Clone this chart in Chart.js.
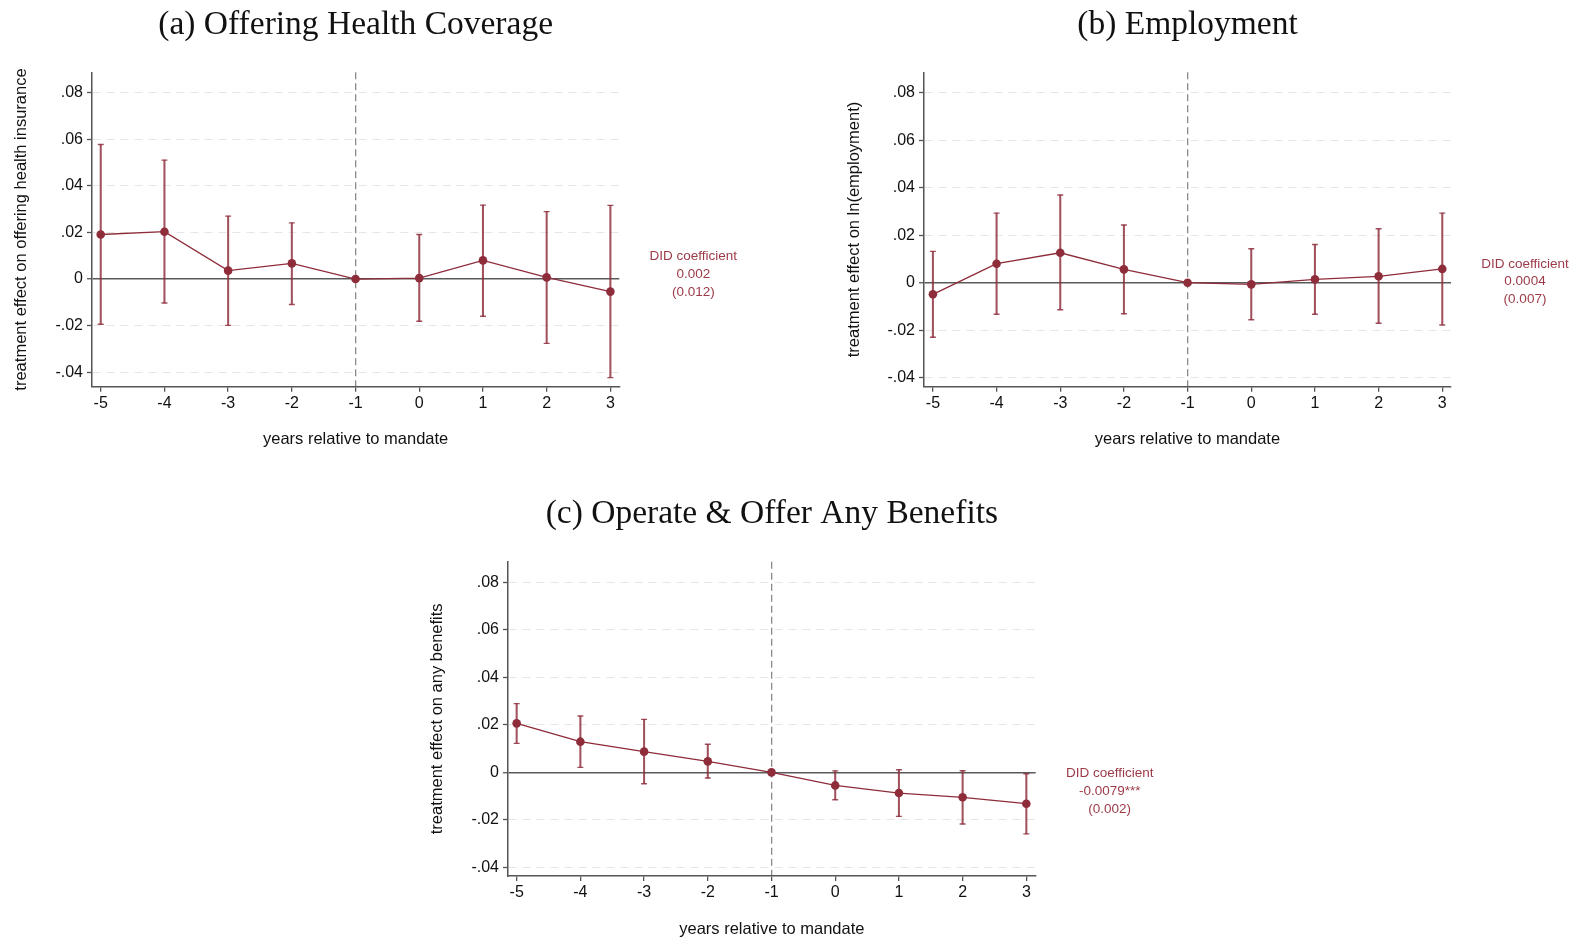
<!DOCTYPE html>
<html>
<head>
<meta charset="utf-8">
<title>Event study estimates</title>
<script src="https://cdn.jsdelivr.net/npm/chart.js@4.4.1/dist/chart.umd.min.js"></script>
<style>
  html, body { margin: 0; padding: 0; background: #fff; }
  body { width: 1581px; height: 939px; position: relative; overflow: hidden; }
  .panel { position: absolute; }
</style>
</head>
<body>
<div class="panel" style="left:0;top:0;width:800px;height:470px"><canvas id="chartA"></canvas></div>
<div class="panel" style="left:830px;top:0;width:751px;height:470px"><canvas id="chartB"></canvas></div>
<div class="panel" style="left:400px;top:480px;width:800px;height:459px"><canvas id="chartC"></canvas></div>
<script>
// event time and axis ticks shared by all three panels
const years = [-5, -4, -3, -2, -1, 0, 1, 2, 3];
const refYear = -1;
const yTicks = [-0.04, -0.02, 0, 0.02, 0.04, 0.06, 0.08];
const yTickLabels = ['-.04', '-.02', '0', '.02', '.04', '.06', '.08'];

// (a) offering health coverage
const coverageEst = [0.0191, 0.0203, 0.0036, 0.0067, 0, 0.0004, 0.0080, 0.0007, -0.0054];
const coverageHi = [0.0577, 0.0510, 0.0270, 0.0241, null, 0.0191, 0.0317, 0.0289, 0.0316];
const coverageLo = [-0.0194, -0.0103, -0.0199, -0.0109, null, -0.0181, -0.0160, -0.0276, -0.0423];

// (b) employment
const employEst = [-0.0049, 0.0080, 0.0126, 0.0056, 0, -0.0007, 0.0014, 0.0027, 0.0058];
const employHi = [0.0132, 0.0293, 0.0369, 0.0243, null, 0.0143, 0.0161, 0.0227, 0.0293];
const employLo = [-0.0230, -0.0133, -0.0114, -0.0131, null, -0.0156, -0.0133, -0.0171, -0.0178];

// (c) operate & offer any benefits
const benefitsEst = [0.0206, 0.0129, 0.0087, 0.0046, 0, -0.0055, -0.0087, -0.0105, -0.0132];
const benefitsHi = [0.0289, 0.0237, 0.0223, 0.0118, null, 0.0006, 0.0011, 0.0007, -0.0006];
const benefitsLo = [0.0122, 0.0021, -0.0048, -0.0024, null, -0.0115, -0.0185, -0.0217, -0.0259];

// pooled DID estimates
const didCoef = [0.002, 0.0004, -0.0079];
const didCoefLabels = ['0.002', '0.0004', '-0.0079***'];
const didSeLabels = ['(0.012)', '(0.007)', '(0.002)'];

const sans = "'Liberation Sans', Arial, Helvetica, sans-serif";
const serif = "'Liberation Serif', 'Times New Roman', serif";
const red = '#8e2c3a';
const ciRed = 'rgba(142, 44, 58, 0.82)';
const axisGray = '#555';

// writes the DID estimate next to the right end of the plot
const didNote = {
  id: 'didNote',
  afterDraw(chart, args, opts) {
    const ctx = chart.ctx;
    const y = chart.scales.y.getPixelForValue(opts.value);
    const x = chart.chartArea.right + 74;
    ctx.save();
    ctx.fillStyle = '#9c3a47';
    ctx.font = '13.5px ' + sans;
    ctx.textAlign = 'center';
    ctx.textBaseline = 'middle';
    ctx.fillText('DID coefficient', x, y - 17.8);
    ctx.fillText(opts.coef, x, y);
    ctx.fillText(opts.se, x, y + 17.8);
    ctx.restore();
  }
};

function buildPanel(canvasId, p) {
  const points = years.map((x, i) => ({ x: x, y: p.est[i] }));
  const ciBars = [];
  const ciCaps = [];
  years.forEach((x, i) => {
    if (p.lo[i] === null) return;
    ciBars.push({ x: x, y: [p.lo[i], p.hi[i]] });
    ciCaps.push({ x: x, y: p.lo[i] }, { x: x, y: p.hi[i] });
  });

  return new Chart(document.getElementById(canvasId), {
    type: 'line',
    data: {
      datasets: [
        {
          data: points,
          borderColor: red,
          borderWidth: 1.3,
          pointRadius: 4.3,
          pointBackgroundColor: red,
          pointBorderWidth: 0,
          order: 0
        },
        {
          type: 'bar',
          data: ciBars,
          backgroundColor: ciRed,
          borderWidth: 0,
          barThickness: 1.4,
          order: 2
        },
        {
          data: ciCaps,
          showLine: false,
          pointStyle: 'line',
          pointRadius: 3,
          pointBorderWidth: 1.4,
          pointBorderColor: ciRed,
          order: 1
        }
      ]
    },
    options: {
      responsive: true,
      maintainAspectRatio: false,
      animation: false,
      events: [],
      layout: { padding: { left: 0, top: 0, right: p.padRight, bottom: 0 } },
      plugins: {
        legend: { display: false },
        tooltip: { enabled: false },
        title: {
          display: true,
          text: p.title,
          fullSize: false,
          color: '#111',
          font: { family: serif, size: 33.5, weight: 'normal' },
          padding: { top: p.titleTop, bottom: p.titleBottom }
        },
        didNote: { value: p.did, coef: p.didLabel, se: p.didSe }
      },
      scales: {
        x: {
          type: 'linear',
          min: p.xMin,
          max: p.xMax,
          offset: false,
          afterBuildTicks: s => { s.ticks = years.map(v => ({ value: v })); },
          afterFit: s => { s.height = p.xAxisHeight; },
          ticks: {
            callback: v => String(v),
            color: '#111',
            font: { family: sans, size: 16 },
            padding: 2,
            maxRotation: 0,
            autoSkip: false
          },
          grid: {
            offset: false,
            drawOnChartArea: true,
            color: c => (c.tick && c.tick.value === refYear ? '#8a8a8a' : 'rgba(0,0,0,0)'),
            lineWidth: 1.3,
            tickColor: axisGray,
            tickLength: 5,
            tickWidth: 1.3
          },
          border: {
            color: axisGray,
            width: 1.5,
            dash: c => (c.tick ? [7, 4] : [])
          },
          title: {
            display: true,
            text: 'years relative to mandate',
            color: '#111',
            font: { family: sans, size: 16.5 },
            padding: { top: 0, bottom: p.xTitlePad }
          }
        },
        y: {
          type: 'linear',
          min: p.yMin,
          max: p.yMax,
          afterBuildTicks: s => { s.ticks = yTicks.map(v => ({ value: v })); },
          afterFit: s => { s.width = p.yAxisWidth; },
          ticks: {
            callback: v => yTickLabels[yTicks.indexOf(v)],
            color: '#111',
            font: { family: sans, size: 16 },
            padding: 4,
            autoSkip: false
          },
          grid: {
            color: c => (c.tick && c.tick.value === 0 ? '#5a5a5a' : '#e6e6e6'),
            lineWidth: c => (c.tick && c.tick.value === 0 ? 1.5 : 1),
            tickColor: axisGray,
            tickLength: 5,
            tickWidth: 1.3
          },
          border: {
            color: axisGray,
            width: 1.5,
            dash: c => (c.tick && c.tick.value !== 0 ? [8, 6] : [])
          },
          title: {
            display: true,
            text: p.yTitle,
            color: '#111',
            font: { family: sans, size: 16.5 },
            padding: { top: p.yTitlePad, bottom: 0 }
          }
        }
      }
    },
    plugins: [didNote]
  });
}

buildPanel('chartA', {
  title: '(a) Offering Health Coverage',
  yTitle: 'treatment effect on offering health insurance',
  est: coverageEst, hi: coverageHi, lo: coverageLo,
  did: didCoef[0], didLabel: didCoefLabels[0], didSe: didSeLabels[0],
  xMin: -5.137, xMax: 3.14, yMin: -0.0462, yMax: 0.0887,
  padRight: 180.7, yAxisWidth: 92, xAxisHeight: 83.3,
  titleTop: 5, titleBottom: 27.1, xTitlePad: 21, yTitlePad: 12
});

buildPanel('chartB', {
  title: '(b) Employment',
  yTitle: 'treatment effect on ln(employment)',
  est: employEst, hi: employHi, lo: employLo,
  did: didCoef[1], didLabel: didCoefLabels[1], didSe: didSeLabels[1],
  xMin: -5.14, xMax: 3.137, yMin: -0.0438, yMax: 0.0886,
  padRight: 130, yAxisWidth: 94, xAxisHeight: 83.3,
  titleTop: 5, titleBottom: 27.1, xTitlePad: 21, yTitlePad: 15
});

buildPanel('chartC', {
  title: '(c) Operate & Offer Any Benefits',
  yTitle: 'treatment effect on any benefits',
  est: benefitsEst, hi: benefitsHi, lo: benefitsLo,
  did: didCoef[2], didLabel: didCoefLabels[2], didSe: didSeLabels[2],
  xMin: -5.136, xMax: 3.147, yMin: -0.0436, yMax: 0.0886,
  padRight: 164.3, yAxisWidth: 108, xAxisHeight: 63,
  titleTop: 14, titleBottom: 27.5, xTitlePad: 0, yTitlePad: 27.5
});
</script>
</body>
</html>
